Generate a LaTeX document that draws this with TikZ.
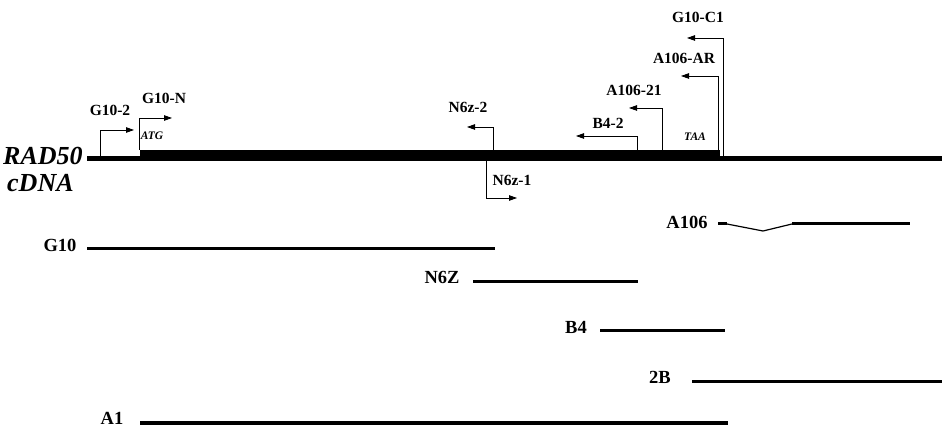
\documentclass[tikz,border=0pt]{standalone}
\usepackage{fontspec}
\setmainfont{Liberation Serif}
\usetikzlibrary{arrows.meta}
\begin{document}
\begin{tikzpicture}[x=1pt,y=-1pt,
  primerlbl/.style={font=\fontsize{15.5}{18}\selectfont\bfseries, inner sep=0pt},
  clonelbl/.style={font=\fontsize{18.5}{20}\selectfont\bfseries, inner sep=0pt},
  codon/.style={font=\fontsize{11.5}{13}\selectfont\bfseries\itshape, inner sep=0pt},
  genelbl/.style={font=\fontsize{26}{28}\selectfont\bfseries\itshape, inner sep=0pt, anchor=west},
  primer/.style={line width=0.8pt, -{Triangle[length=8pt,width=5.5pt]}},
  clone/.style={line width=3pt},
]
\useasboundingbox (0,0) rectangle (942,427);

% cDNA: untranslated parts thin, coding region thick
\coordinate (utr5) at (87,158.5);
\coordinate (utr3) at (942,158.5);
\draw[line width=5pt] (utr5) -- (utr3);
\fill (140,150) rectangle (720,161);

\node[genelbl] (rad) at (3,156) {RAD50};
\node[genelbl] (cdna) at (7,183) {cDNA};
\node[codon] (atg) at (152,136) {ATG};
\node[codon] (taa) at (695,137) {TAA};

% primers
\coordinate (p1a) at (100,156);   \coordinate (p1b) at (100,130);   \coordinate (p1c) at (134,130);
\coordinate (p2a) at (139.5,150); \coordinate (p2b) at (139.5,118); \coordinate (p2c) at (172,118);
\coordinate (p3a) at (493,150);   \coordinate (p3b) at (493,127);   \coordinate (p3c) at (467,127);
\coordinate (p4a) at (486,161);   \coordinate (p4b) at (486,198);   \coordinate (p4c) at (517,198);
\coordinate (p5a) at (637,150);   \coordinate (p5b) at (637,136);   \coordinate (p5c) at (576,136);
\coordinate (p6a) at (662,150);   \coordinate (p6b) at (662,108);   \coordinate (p6c) at (629,108);
\coordinate (p7a) at (718,150);   \coordinate (p7b) at (718,76);    \coordinate (p7c) at (681,76);
\coordinate (p8a) at (723.5,156); \coordinate (p8b) at (723.5,38);  \coordinate (p8c) at (687,38);
\draw[primer] (p1a) -- (p1b) -- (p1c);
\draw[primer] (p2a) -- (p2b) -- (p2c);
\draw[primer] (p3a) -- (p3b) -- (p3c);
\draw[primer] (p4a) -- (p4b) -- (p4c);
\draw[primer] (p5a) -- (p5b) -- (p5c);
\draw[primer] (p6a) -- (p6b) -- (p6c);
\draw[primer] (p7a) -- (p7b) -- (p7c);
\draw[primer] (p8a) -- (p8b) -- (p8c);
\node[primerlbl] (l1) at (110,110) {G10-2};
\node[primerlbl] (l2) at (164,98) {G10-N};
\node[primerlbl] (l3) at (468,107) {N6z-2};
\node[primerlbl] (l4) at (512,180) {N6z-1};
\node[primerlbl] (l5) at (608,123) {B4-2};
\node[primerlbl] (l6) at (634,90) {A106-21};
\node[primerlbl] (l7) at (684,58) {A106-AR};
\node[primerlbl] (l8) at (698,17) {G10-C1};

% clones
\node[clonelbl] (a106) at (687,222) {A106};
\coordinate (a106s) at (718,224); \coordinate (a106j) at (727,224);
\coordinate (a106v) at (763,231); \coordinate (a106k) at (792,224);
\coordinate (a106e) at (910,224);
\draw[clone] (a106s) -- (a106j);
\draw[line width=1.2pt] (a106j) -- (a106v) -- (a106k);
\draw[clone] (a106k) -- (a106e);

\node[clonelbl] (g10) at (60,245) {G10};
\coordinate (g10s) at (87,249); \coordinate (g10e) at (495,249);
\draw[clone] (g10s) -- (g10e);

\node[clonelbl] (n6z) at (442,277) {N6Z};
\coordinate (n6zs) at (473,282); \coordinate (n6ze) at (638,282);
\draw[clone] (n6zs) -- (n6ze);

\node[clonelbl] (b4) at (576,327) {B4};
\coordinate (b4s) at (600,331); \coordinate (b4e) at (725,331);
\draw[clone] (b4s) -- (b4e);

\node[clonelbl] (twob) at (660,377) {2B};
\coordinate (twobs) at (692,381); \coordinate (twobe) at (942,381);
\draw[clone] (twobs) -- (twobe);

\node[clonelbl] (a1) at (112,418) {A1};
\coordinate (a1s) at (140,423); \coordinate (a1e) at (728,423);
\draw[line width=4pt] (a1s) -- (a1e);
\end{tikzpicture}
\end{document}
